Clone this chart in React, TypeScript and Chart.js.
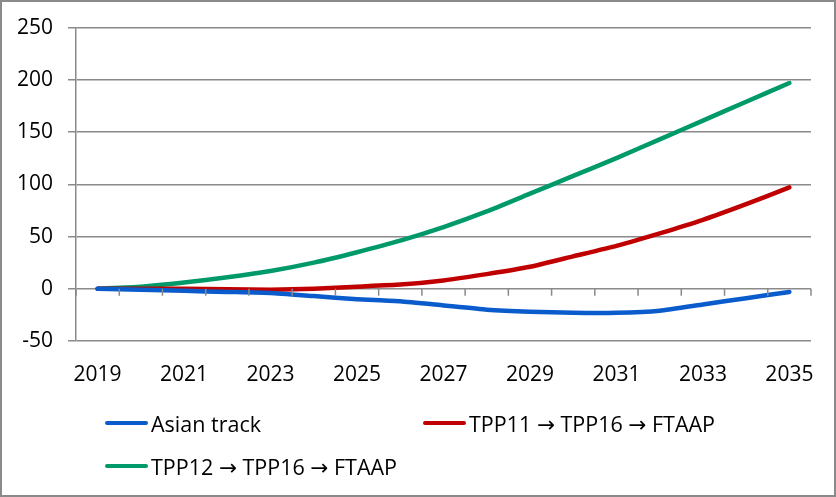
import React, { useEffect, useRef } from "react";
import { Chart, registerables } from "chart.js";

Chart.register(...registerables);

const years = ["2019","2020","2021","2022","2023","2024","2025","2026","2027","2028","2029","2030","2031","2032","2033","2034","2035"];
const asianTrack = [0, -1, -2, -3, -4, -7, -10, -12, -16, -20, -22, -23, -23, -21, -15, -9, -3];
const tpp11 = [0, 0, 0, -0.5, -1, 0, 2, 4, 8, 14, 21, 31, 41, 53, 66, 81, 97];
const tpp12 = [0, 2, 6, 11, 17, 25, 35, 46, 59, 74, 91, 108, 125, 143, 161, 179, 197];
const seriesNames = ["Asian track", "TPP11 \u2192 TPP16 \u2192 FTAAP", "TPP12 \u2192 TPP16 \u2192 FTAAP"];
const seriesColors = ["#0a5ccc", "#c00000", "#009a6a"];
const yTicks = { min: -50, max: 250, step: 50 };

const FONT = "'Open Sans', 'DejaVu Sans', sans-serif";
const GRID = "#8a8a8a";

const zeroTicks = {
  id: "zeroTicks",
  afterDatasetsDraw(chart: any) {
    const x = chart.scales.x;
    const y = chart.scales.y;
    const ctx = chart.ctx;
    const y0 = y.getPixelForValue(0);
    const step = x.getPixelForValue(1) - x.getPixelForValue(0);
    ctx.save();
    ctx.strokeStyle = GRID;
    ctx.lineWidth = 1.5;
    ctx.beginPath();
    for (let i = 0; i <= years.length; i++) {
      const px = x.getPixelForValue(0) - step / 2 + i * step;
      ctx.moveTo(px, y0);
      ctx.lineTo(px, y0 + 7);
    }
    ctx.stroke();
    ctx.restore();
  },
};

export default function App() {
  const ref = useRef<HTMLCanvasElement>(null);

  useEffect(() => {
    document.body.style.margin = "0";
    const data = [asianTrack, tpp11, tpp12];
    const chart = new Chart(ref.current!, {
      type: "line",
      data: {
        labels: years,
        datasets: data.map((d, i) => ({
          label: seriesNames[i],
          data: d,
          borderColor: seriesColors[i],
          backgroundColor: seriesColors[i],
          borderWidth: 4.5,
          pointRadius: 0,
          tension: 0.15,
          borderCapStyle: "round" as const,
          borderJoinStyle: "round" as const,
        })),
      },
      options: {
        animation: false,
        responsive: false,
        devicePixelRatio: 1,
        layout: { padding: { left: 0, right: 25, top: 27, bottom: 0 } },
        plugins: { legend: { display: false }, tooltip: { enabled: false } },
        scales: {
          x: {
            offset: true,
            grid: { display: false, drawTicks: false },
            border: { display: false },
            ticks: {
              autoSkip: false,
              maxRotation: 0,
              padding: 21,
              color: "#000",
              font: { family: FONT, size: 21 },
              callback: (_v: any, i: number) => (i % 2 === 0 ? years[i] : ""),
            },
            afterFit: (s: any) => { s.height = 156; },
          },
          y: {
            min: yTicks.min,
            max: yTicks.max,
            ticks: { stepSize: yTicks.step, padding: 15, color: "#000", font: { family: FONT, size: 21 } },
            grid: { color: GRID, lineWidth: 1.5, tickLength: 8, drawTicks: true },
            border: { display: true, color: GRID, width: 1.5 },
            afterFit: (s: any) => { s.width = 76; },
          },
        },
      },
      plugins: [zeroTicks],
    });
    return () => chart.destroy();
  }, []);

  const legendPos = [
    { left: 105, top: 423 },
    { left: 423, top: 423 },
    { left: 105, top: 466 },
  ];

  return (
    <div style={{ position: "relative", width: 836, height: 497, background: "#fff", fontFamily: FONT }}>
      <canvas ref={ref} width={836} height={497} style={{ position: "absolute", left: 0, top: 0, width: 836, height: 497 }} />
      {seriesNames.map((name, i) => (
        <div
          key={name}
          style={{
            position: "absolute",
            left: legendPos[i].left,
            top: legendPos[i].top - 15,
            height: 30,
            display: "flex",
            alignItems: "center",
            whiteSpace: "nowrap",
            fontSize: 21.5,
            color: "#000",
          }}
        >
          <div style={{ width: 43, height: 4.5, borderRadius: 2.5, background: seriesColors[i], marginRight: 3 }} />
          <span>{name}</span>
        </div>
      ))}
      <div style={{ position: "absolute", left: 0, top: 0, width: 836, height: 497, boxSizing: "border-box", border: "2px solid #8a8a8a", pointerEvents: "none" }} />
    </div>
  );
}
